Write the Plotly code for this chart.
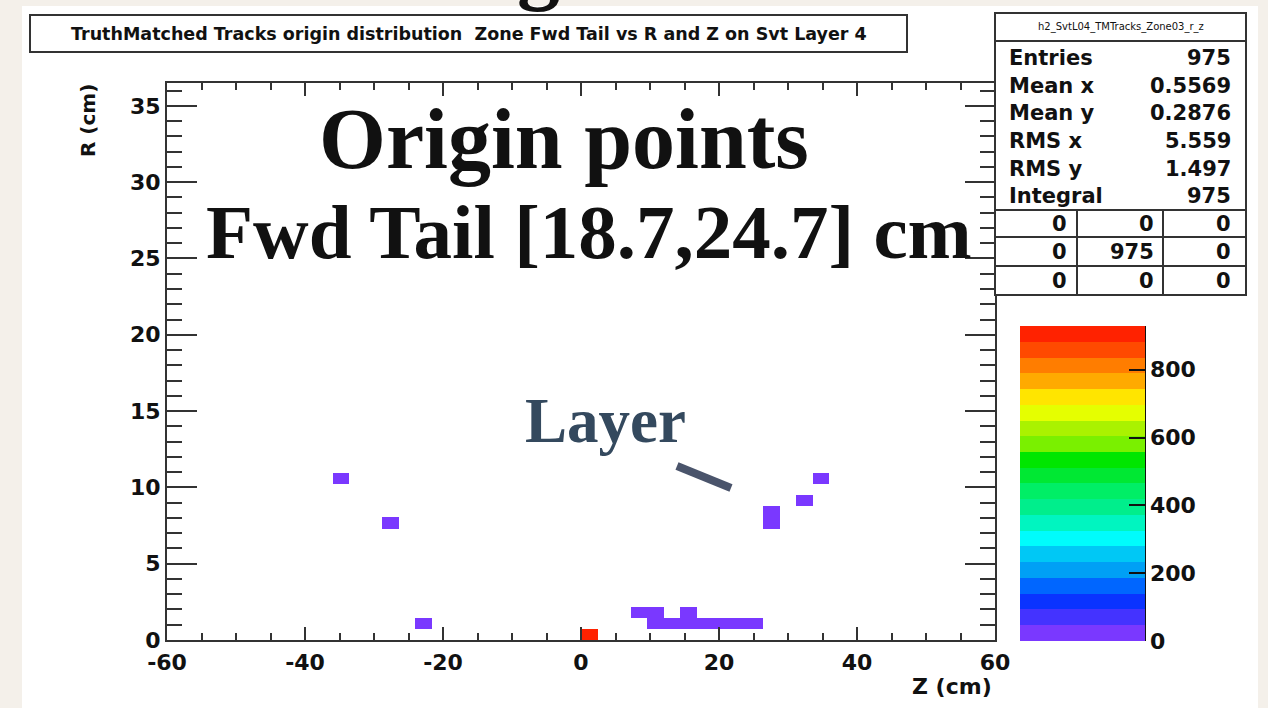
import numpy as np
import plotly.graph_objects as go

# ---------------- data ----------------
# histogram binning (ROOT TH2: 50 x 50 bins)
Z_RANGE = (-60.0, 60.0)
NZ = 50
R_RANGE = (0.0, 36.5)
NR = 50

# filled cells: bin centres (Z, R)
cell_z = [-34.8, -27.6, -22.8, 1.2, 8.4, 10.8, 15.6,
          10.8, 13.2, 15.6, 18.0, 20.4, 22.8, 25.2,
          27.6, 27.6, 32.4, 34.8]
cell_r = [10.585, 7.665, 1.095, 0.365, 1.825, 1.825, 1.825,
          1.095, 1.095, 1.095, 1.095, 1.095, 1.095, 1.095,
          7.665, 8.395, 9.125, 10.585]
cell_n = [2, 2, 3, 929, 3, 3, 2,
          4, 4, 3, 3, 3, 3, 3,
          2, 2, 2, 2]

x_ticks = [-60, -40, -20, 0, 20, 40, 60]
x_tick_labels = ["-60", "-40", "-20", "0", "20", "40", "60"]
y_ticks = [0, 5, 10, 15, 20, 25, 30, 35]
y_tick_labels = ["0", "5", "10", "15", "20", "25", "30", "35"]
cbar_ticks = [0, 200, 400, 600, 800]

# ROOT palette bands, bottom -> top (20 contour levels)
palette = ["#7a38ff", "#4433ff", "#0a33ff", "#0066ff", "#00a0f5",
           "#00c8f5", "#00fcfc", "#00f5c0", "#00ee8c", "#00ee66",
           "#00e833", "#00e600", "#7af000", "#aaf200", "#e5ff00",
           "#ffe500", "#ffaa00", "#ff7d00", "#ff4a00", "#ff2200"]

title_text = "TruthMatched Tracks origin distribution  Zone Fwd Tail vs R and Z on Svt Layer 4"
hist_name = "h2_SvtL04_TMTracks_Zone03_r_z"
stat_labels = ["Entries", "Mean x", "Mean y", "RMS x", "RMS y", "Integral"]
stat_values = ["975", "0.5569", "0.2876", "5.559", "1.497", "975"]
overflow_grid = [["0", "0", "0"], ["0", "975", "0"], ["0", "0", "0"]]

# ---------------- histogram ----------------
z_edges = np.linspace(Z_RANGE[0], Z_RANGE[1], NZ + 1)
r_edges = np.linspace(R_RANGE[0], R_RANGE[1], NR + 1)
H, _, _ = np.histogram2d(cell_z, cell_r, bins=[z_edges, r_edges], weights=cell_n)
H = H.T.astype(object)
H[H == 0] = None
z_centres = 0.5 * (z_edges[:-1] + z_edges[1:])
r_centres = 0.5 * (r_edges[:-1] + r_edges[1:])

zmax = max(cell_n)
n = len(palette)
colorscale = []
for i, c in enumerate(palette):
    colorscale.append([i / n, c])
    colorscale.append([(i + 1) / n, c])

# ---------------- layout helpers ----------------
W, HGT = 1268, 708
PL, PR, PT, PB = 167, 995, 83, 640


def fx(px):
    return (px - PL) / (PR - PL)


def fy(py):
    return (PB - py) / (PB - PT)


ROOTFONT = "DejaVu Sans"
SERIF = "Liberation Serif"
INK = "#111111"
FRAME = "#333333"

fig = go.Figure()
fig.add_trace(go.Heatmap(
    x=z_centres, y=r_centres, z=H.tolist(),
    colorscale=colorscale, zmin=0, zmax=zmax, zsmooth=False,
    hoverongaps=False,
    colorbar=dict(
        x=fx(1020), xanchor="left", xpad=0,
        y=fy(641), yanchor="bottom", ypad=0,
        len=(641 - 326) / (PB - PT), lenmode="fraction",
        thickness=125, thicknessmode="pixels",
        outlinewidth=0,
        tickmode="array", tickvals=cbar_ticks,
        ticks="inside", ticklen=16, tickwidth=2, tickcolor=INK,
        tickfont=dict(family=ROOTFONT, size=22, color=INK, weight="bold"),
    ),
))

axis_common = dict(
    showline=True, linecolor=FRAME, linewidth=2, mirror="ticks",
    ticks="inside", tickcolor=FRAME, tickwidth=2,
    showgrid=False, zeroline=False,
    tickfont=dict(family=ROOTFONT, size=22, color=INK, weight="bold"),
)

fig.update_xaxes(range=list(Z_RANGE), tickmode="array", tickvals=x_ticks,
                 ticktext=x_tick_labels,
                 ticklen=13, ticklabelstandoff=2,
                 minor=dict(dtick=5, ticks="inside", ticklen=7, tickcolor=FRAME, tickwidth=1.5),
                 **axis_common)
fig.update_yaxes(range=list(R_RANGE), tickmode="array", tickvals=y_ticks,
                 ticktext=y_tick_labels,
                 ticklen=30, ticklabelstandoff=0,
                 minor=dict(dtick=1, ticks="inside", ticklen=15, tickcolor=FRAME, tickwidth=1.5),
                 **axis_common)

shapes = []
# white slide panel
shapes.append(dict(type="rect", xref="paper", yref="paper", layer="below",
                   x0=fx(22), x1=fx(1258), y0=fy(708), y1=fy(6),
                   fillcolor="white", line=dict(width=0)))
# title box
shapes.append(dict(type="rect", xref="paper", yref="paper", layer="above",
                   x0=fx(30), x1=fx(907), y0=fy(52), y1=fy(15),
                   fillcolor="white", line=dict(color=FRAME, width=2)))
# stats box
shapes.append(dict(type="rect", xref="paper", yref="paper", layer="above",
                   x0=fx(995), x1=fx(1246), y0=fy(295), y1=fy(13),
                   fillcolor="white", line=dict(color=FRAME, width=2)))
for yy in [41, 210, 237, 266]:
    shapes.append(dict(type="line", xref="paper", yref="paper", layer="above",
                       x0=fx(995), x1=fx(1246), y0=fy(yy), y1=fy(yy),
                       line=dict(color=FRAME, width=2)))
for xx in [1077, 1163]:
    shapes.append(dict(type="line", xref="paper", yref="paper", layer="above",
                       x0=fx(xx), x1=fx(xx), y0=fy(210), y1=fy(295),
                       line=dict(color=FRAME, width=2)))
# colour bar axis line
shapes.append(dict(type="line", xref="paper", yref="paper", layer="above",
                   x0=fx(1145), x1=fx(1145), y0=fy(641), y1=fy(326),
                   line=dict(color=INK, width=2)))
# "Layer" pointer
shapes.append(dict(type="line", xref="paper", yref="paper", layer="above",
                   x0=fx(677), x1=fx(731), y0=fy(466), y1=fy(488),
                   line=dict(color="#4a546b", width=8)))

ann = []


def text(s, px, py, size, xanchor="center", yanchor="middle", family=ROOTFONT,
         weight="bold", color=INK, angle=0):
    ann.append(dict(text=s, x=fx(px), y=fy(py), xref="paper", yref="paper",
                    showarrow=False, xanchor=xanchor, yanchor=yanchor,
                    textangle=angle,
                    font=dict(family=family, size=size, color=color, weight=weight)))


# title
text(title_text, 469, 34, 17.5)
# axis titles
text("R (cm)", 88, 121, 20, angle=-90)
text("Z (cm)", 994, 686, 22, xanchor="right")
# stats box
text(hist_name, 1121, 27, 10, weight="normal")
stat_y = [58, 86, 113, 141, 169, 196]
for lab, val, yy in zip(stat_labels, stat_values, stat_y):
    text(lab, 1007, yy, 21, xanchor="left")
    text(val, 1233, yy, 21, xanchor="right")
grid_y = [224, 252, 281]
grid_x = [1069, 1156, 1233]
for row, yy in zip(overflow_grid, grid_y):
    for v, xx in zip(row, grid_x):
        text(v, xx, yy, 21, xanchor="right")
# overlay slide text
text("Origin points", 564, 189, 86, yanchor="bottom", family=SERIF)
text("Fwd Tail [18.7,24.7] cm", 589, 277, 77, yanchor="bottom", family=SERIF)
text("Layer", 605, 458, 63, yanchor="bottom", family=SERIF, color="#34495e")
# cut-off glyph of the slide heading at the very top
text("g", 538, 14, 86, yanchor="bottom", family=SERIF)

fig.update_layout(
    width=W, height=HGT,
    margin=dict(l=PL, r=W - PR, t=PT, b=HGT - PB, pad=0),
    paper_bgcolor="#f4f0ea", plot_bgcolor="white",
    shapes=shapes, annotations=ann, showlegend=False,
)

fig.write_html("out.html",
               config={"displayModeBar": False},
               post_script="document.body.style.margin='0px';document.body.style.overflow='hidden';")
